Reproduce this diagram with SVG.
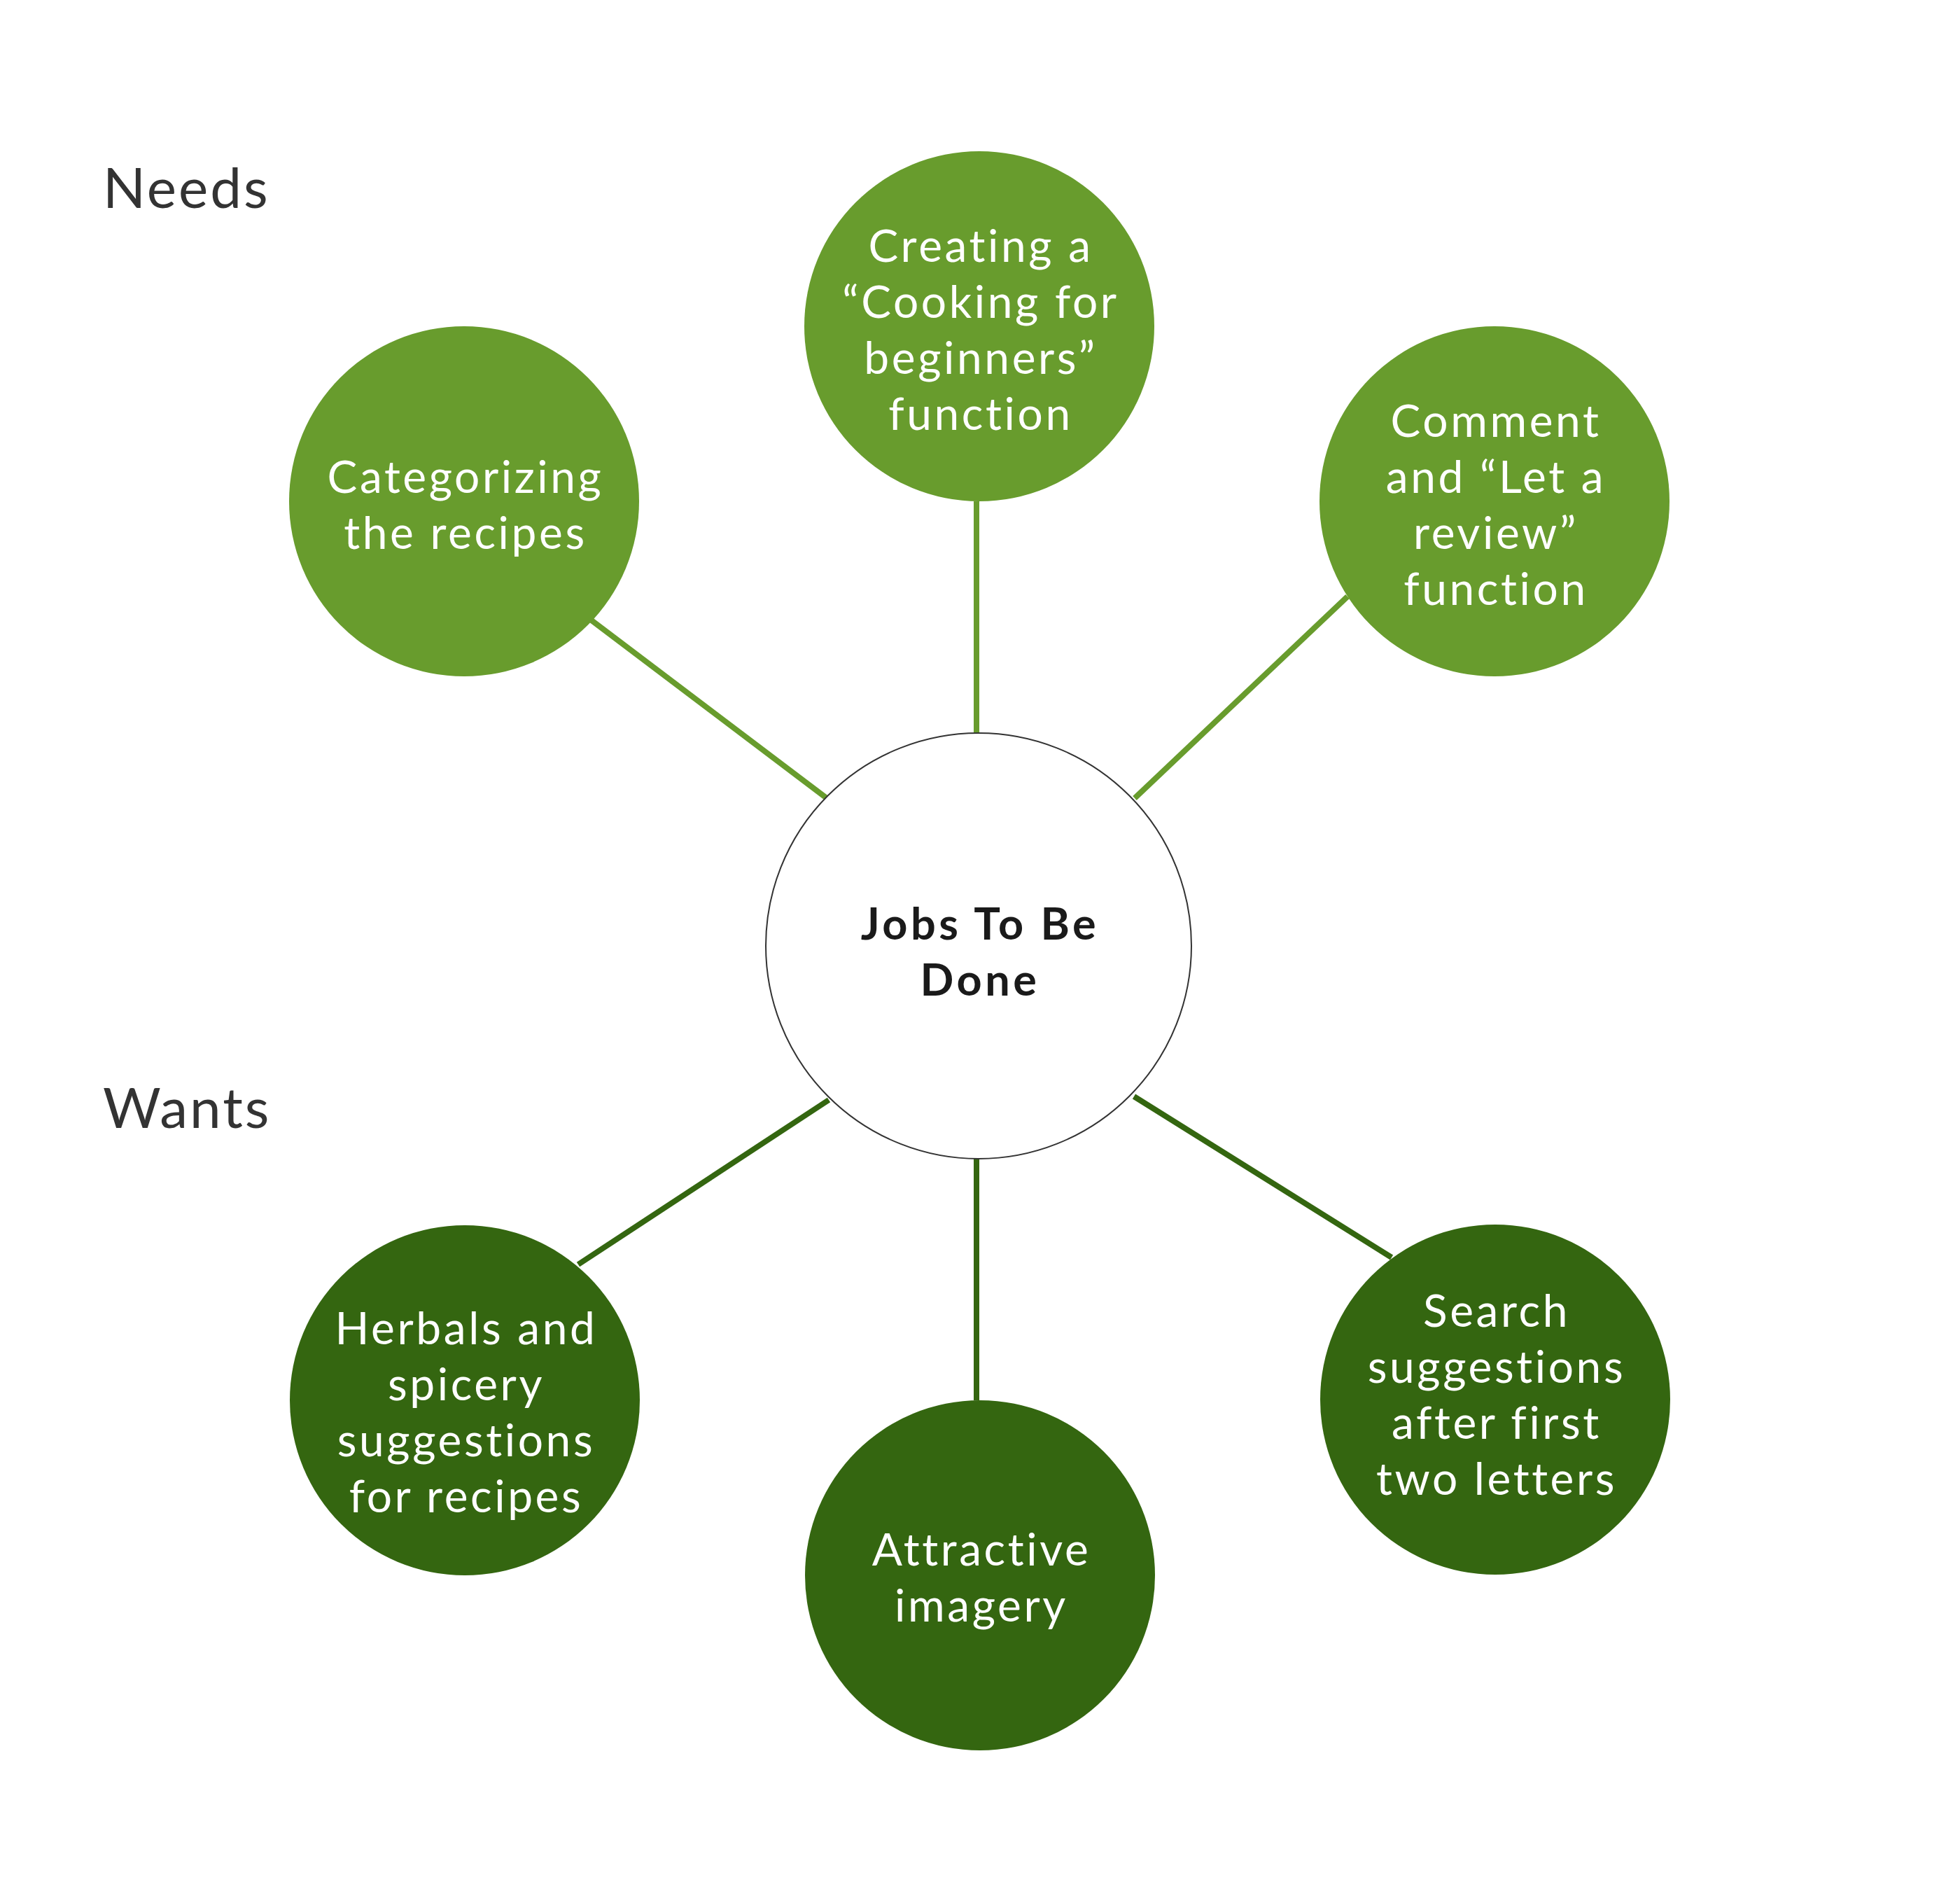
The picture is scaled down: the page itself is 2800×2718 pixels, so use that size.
<svg xmlns="http://www.w3.org/2000/svg" width="2800" height="2718" viewBox="0 0 2800 2718">
<style>
.light{fill:#689c2d}
.dark{fill:#346610}
.lt{font-family:Lato,"Open Sans","Liberation Sans",sans-serif;font-size:64px;letter-spacing:3.6px;fill:#ffffff;text-anchor:middle}
.ct{font-family:Lato,"Open Sans","Liberation Sans",sans-serif;font-size:63px;letter-spacing:4.5px;font-weight:bold;fill:#1a1a1a;text-anchor:middle}
.hd{font-family:Lato,"Open Sans","Liberation Sans",sans-serif;font-size:80px;letter-spacing:3px;fill:#333333}
.cl{stroke:#689c2d;stroke-width:8}
.cd{stroke:#346610;stroke-width:8}
</style>
<rect width="2800" height="2718" fill="#ffffff"/>
<text class="hd" x="147" y="297">Needs</text>
<text class="hd" x="147" y="1611">Wants</text>
<g id="connectors">
<line class="cl" x1="1395" y1="716" x2="1395" y2="1048"/>
<line class="cl" x1="845" y1="886" x2="1181" y2="1140"/>
<line class="cl" x1="1925" y1="852" x2="1621" y2="1140"/>
<line class="cd" x1="1184" y1="1571" x2="826" y2="1806"/>
<line class="cd" x1="1620" y1="1566" x2="1988" y2="1796"/>
<line class="cd" x1="1395" y1="1655" x2="1395" y2="2000"/>
</g>
<g id="center">
<circle cx="1398" cy="1351" r="304" fill="#ffffff" stroke="#333333" stroke-width="2"/>
<text class="ct" x="1400" y="1342">Jobs To Be</text>
<text class="ct" x="1400" y="1422">Done</text>
</g>
<g id="n-top">
<circle class="light" cx="1399" cy="466" r="250"/>
<text class="lt" x="1401" y="374">Creating a</text>
<text class="lt" x="1401" y="454">“Cooking for</text>
<text class="lt" x="1401" y="534">beginners”</text>
<text class="lt" x="1401" y="614">function</text>
</g>
<g id="n-topleft">
<circle class="light" cx="663" cy="716" r="250"/>
<text class="lt" x="665" y="704">Categorizing</text>
<text class="lt" x="665" y="784">the recipes</text>
</g>
<g id="n-topright">
<circle class="light" cx="2135" cy="716" r="250"/>
<text class="lt" x="2137" y="624">Comment</text>
<text class="lt" x="2137" y="704">and “Let a</text>
<text class="lt" x="2137" y="784">review”</text>
<text class="lt" x="2137" y="864">function</text>
</g>
<g id="n-bottomleft">
<circle class="dark" cx="664" cy="2000" r="250"/>
<text class="lt" x="666" y="1920">Herbals and</text>
<text class="lt" x="666" y="2000">spicery</text>
<text class="lt" x="666" y="2080">suggestions</text>
<text class="lt" x="666" y="2160">for recipes</text>
</g>
<g id="n-bottom">
<circle class="dark" cx="1400" cy="2250" r="250"/>
<text class="lt" x="1402" y="2236">Attractive</text>
<text class="lt" x="1402" y="2316">imagery</text>
</g>
<g id="n-bottomright">
<circle class="dark" cx="2136" cy="1999" r="250"/>
<text class="lt" x="2138" y="1895">Search</text>
<text class="lt" x="2138" y="1975">suggestions</text>
<text class="lt" x="2138" y="2055">after first</text>
<text class="lt" x="2138" y="2135">two letters</text>
</g>
</svg>
